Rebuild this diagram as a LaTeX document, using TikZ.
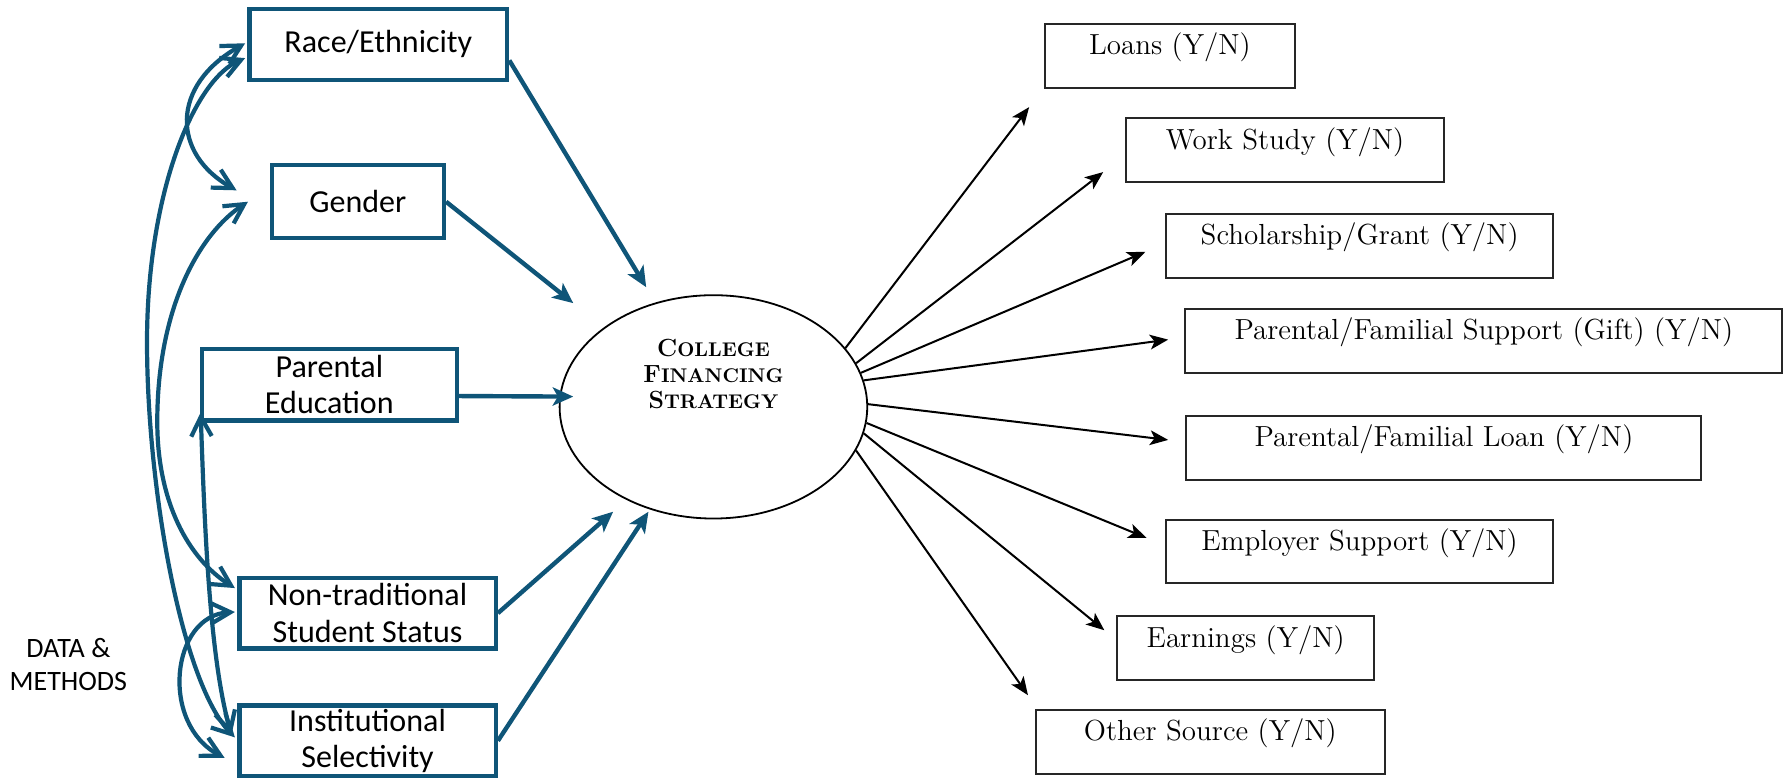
\documentclass[tikz,border=0pt]{standalone}
\usepackage{fontspec}
\newfontfamily\carl{Carlito}
\usetikzlibrary{arrows.meta,shapes.geometric,calc}
\definecolor{sembl}{RGB}{15,85,120}
\newcommand\fsc[2]{{\fontsize{12.4}{13}\selectfont #1}{\fontsize{9.9}{13}\selectfont #2}}
\begin{document}
\begin{tikzpicture}[x=0.02cm,y=-0.02cm,
  lbox/.style={draw=sembl, line width=2.2pt, align=center, inner sep=0pt, font=\carl\fontsize{16}{18.2}\selectfont},
  rbox/.style={draw=black!85, line width=1pt, inner xsep=0pt, inner ysep=0pt, text height=0.54cm, text depth=0.58cm, anchor=north, font=\fontsize{14.5}{16}\selectfont},
  barr/.style={draw=sembl, line width=2.2pt, -{Stealth[length=0.36cm,width=0.32cm,inset=0.09cm]}},
  cov/.style={draw=sembl, line width=2.1pt, {Straight Barb[length=0.34cm,width=0.36cm]}-{Straight Barb[length=0.34cm,width=0.36cm]}},
  karr/.style={draw=black, line width=1pt, -{Stealth[length=0.32cm,width=0.26cm,inset=0.08cm]}}
]
\useasboundingbox (0,0) rectangle (1568,682);

% left boxes
\node[lbox, minimum width=4.52cm, minimum height=1.24cm] (Race) at (332,39) {Race/Ethnicity};
\node[lbox, minimum width=3.02cm, minimum height=1.28cm] (Gender) at (314,177) {Gender};
\node[lbox, minimum width=4.48cm, minimum height=1.26cm] (Par) at (289,337.5) {Parental\\Education};
\node[lbox, minimum width=4.5cm, minimum height=1.24cm] (Non) at (322.5,538) {Non-traditional\\Student Status};
\node[lbox, minimum width=4.5cm, minimum height=1.24cm] (Inst) at (322.5,650) {Institutional\\Selectivity};
\node[font=\carl\fontsize{14}{16.8}\selectfont, align=center, inner sep=0pt] (DM) at (60,583) {DATA \&\\METHODS};

% central ellipse
\node[draw, ellipse, line width=0.9pt, minimum width=5.4cm, minimum height=3.92cm, inner sep=0pt] (E) at (626,357) {};
\node[font=\bfseries\fontsize{12.4}{13}\selectfont, align=center, inner sep=0pt] (Etxt) at (626,328) {\fsc{C}{OLLEGE}\\\fsc{F}{INANCING}\\\fsc{S}{TRATEGY}};

% right boxes
\node[rbox, minimum width=4.38cm] (Loans) at (1026.5,20) {Loans (Y/N)};
\node[rbox, minimum width=5.58cm] (Work) at (1127.5,103) {Work Study (Y/N)};
\node[rbox, minimum width=6.8cm] (Schol) at (1193,187) {Scholarship/Grant (Y/N)};
\node[rbox, minimum width=10.48cm] (PSup) at (1302,270) {Parental/Familial Support (Gift) (Y/N)};
\node[rbox, minimum width=9.04cm] (PLoan) at (1267,364) {Parental/Familial Loan (Y/N)};
\node[rbox, minimum width=6.8cm] (Emp) at (1193,455) {Employer Support (Y/N)};
\node[rbox, minimum width=4.52cm] (Earn) at (1093,540) {Earnings (Y/N)};
\node[rbox, minimum width=6.12cm] (Other) at (1062,622) {Other Source (Y/N)};

% arrow tips (free ends)
\coordinate (kLoans) at (903,94);
\coordinate (kWork) at (968,151);
\coordinate (kSchol) at (1005,221);
\coordinate (kPSup) at (1025,298);
\coordinate (kPLoan) at (1025,386);
\coordinate (kEmp) at (1006,472);
\coordinate (kEarn) at (969,553);
\coordinate (kOther) at (902,610);

\draw[karr] (E.24.6) -- (kLoans);
\draw[karr] (E.17.5) -- (kWork);
\draw[karr] (E.13.4) -- (kSchol);
\draw[karr] (E.10.2) -- (kPSup);
\draw[karr] (E.1.5) -- (kPLoan);
\draw[karr] (E.-6.4) -- (kEmp);
\draw[karr] (E.-10) -- (kEarn);
\draw[karr] (E.-17.5) -- (kOther);

% blue arrows into ellipse
\coordinate (tRace) at (567,252);
\coordinate (tGender) at (503,266);
\coordinate (tPar) at (503,348);
\coordinate (tNon) at (538,449);
\coordinate (tInst) at (569,449);
\draw[barr] ([yshift=-0.28cm]Race.east) -- (tRace);
\draw[barr] (Gender.east) -- (tGender);
\draw[barr] ([yshift=-0.2cm]Par.east) -- (tPar);
\draw[barr] (Non.east) -- (tNon);
\draw[barr] (Inst.east) -- (tInst);

% covariance curves
\coordinate (rT1) at ($(Race.west)+(-2,-1)$);
\coordinate (rT2) at ($(Race.west)+(-2,12)$);
\coordinate (gT1) at ($(Gender.west)+(-29,-10)$);
\coordinate (gT2) at ($(Gender.west)+(-19,0)$);
\coordinate (pT) at ($(Par.south west)+(1,-9)$);
\coordinate (nT1) at ($(Non.west)+(-2,-22)$);
\coordinate (nT2) at ($(Non.west)+(-2,-1)$);
\coordinate (iT1) at ($(Inst.west)+(-2,-3)$);
\coordinate (iT2) at ($(Inst.west)+(-5,-5)$);
\coordinate (iT3) at ($(Inst.west)+(-11,15)$);

\draw[cov] (rT1) .. controls +(-66,37) and +(-57,-32) .. (gT1);
\draw[cov] (rT2) .. controls (170,70) and (129,170) .. (129,300) .. controls (129,430) and (160,600) .. (iT1);
\draw[cov] (gT2) .. controls (175,205) and (138,270) .. (138,370) .. controls (138,440) and (165,490) .. (nT1);
\draw[cov] (pT) .. controls (180,480) and (185,580) .. (iT2);
\draw[cov] (nT2) .. controls (150,540) and (140,635) .. (iT3);
\end{tikzpicture}
\end{document}
